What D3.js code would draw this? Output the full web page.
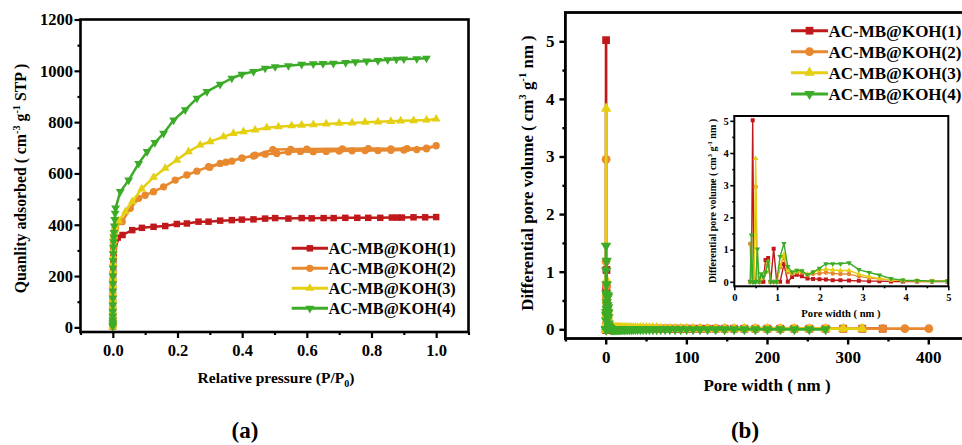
<!DOCTYPE html>
<html>
<head>
<meta charset="utf-8">
<script src="https://cdn.jsdelivr.net/npm/d3@7"></script>
<style>
  body { margin: 0; background: #fff; }
  svg { display: block; }
  text { font-family: "Liberation Serif", "Times New Roman", serif; font-weight: bold; fill: #000; }
</style>
</head>
<body>
<svg id="fig" width="962" height="445"></svg>
<script>
// ---------- sample names and colours ----------
const sampleNames = ["AC-MB@KOH(1)", "AC-MB@KOH(2)", "AC-MB@KOH(3)", "AC-MB@KOH(4)"];
const sampleColors = ["#c0191b", "#e8892f", "#e5cf12", "#3cab28"];

// ---------- (a) N2 isotherms: relative pressure P/P0 vs quantity adsorbed ----------
// micropore-filling points recorded at very low relative pressure
const lowPressure = [0.000005, 0.00001, 0.00002, 0.00003, 0.00005, 0.00008, 0.00012, 0.00018, 0.00025, 0.00035,
  0.0005, 0.0007, 0.001, 0.0013, 0.0017, 0.0022, 0.0028, 0.0035, 0.0045, 0.0057, 0.007, 0.0085];

const lowV1 = [3, 8, 16, 25, 38, 55, 75, 98, 122, 148, 175, 200, 226, 250, 270, 288, 303, 315, 326, 334, 340, 345];
const isoP1 = lowPressure.concat([0.015,
  0.03, 0.06, 0.09, 0.126, 0.162, 0.198, 0.229, 0.265, 0.296, 0.332, 0.368, 0.399, 0.435, 0.471, 0.502, 0.543, 0.584,
  0.615, 0.652, 0.683, 0.719, 0.756, 0.79, 0.827, 0.863, 0.88, 0.894, 0.93, 0.966, 1.0]);
const isoV1 = lowV1.concat([350,
  360, 379, 388, 392, 395, 403, 405, 412, 412, 416, 418, 420, 421, 424, 426, 424, 426,
  425, 426, 426, 427, 427, 427, 427, 428, 428, 428, 429, 429, 430]);

const lowV2 = [3, 8, 16, 26, 40, 58, 80, 104, 130, 158, 186, 214, 242, 268, 292, 312, 330, 346, 360, 372, 382, 392];
const isoP2 = lowPressure.concat([
  0.029, 0.054, 0.08, 0.1, 0.126, 0.157, 0.193, 0.229, 0.26, 0.296, 0.332, 0.368, 0.399, 0.435, 0.471, 0.507, 0.543, 0.58,
  0.62, 0.66, 0.70, 0.74, 0.78, 0.82, 0.86, 0.90, 0.94, 0.97, 1.0,
  0.97, 0.91, 0.86, 0.79, 0.71, 0.6, 0.55, 0.495, 0.44, 0.4, 0.35, 0.3]);
const isoV2 = lowV2.concat([
  412, 464, 503, 515, 529, 548, 574, 594, 609, 626, 639, 648, 660, 668, 675, 678, 684, 686,
  685, 686, 687, 688, 689, 689, 690, 691, 693, 696, 708,
  699, 697, 696, 697, 696, 695, 694, 693, 671, 660, 644, 624]);

const lowV3 = [3, 8, 17, 27, 42, 60, 83, 108, 135, 163, 192, 220, 250, 276, 300, 322, 340, 356, 370, 383, 395, 405];
const isoP3 = lowPressure.concat([0.018,
  0.039, 0.06, 0.089, 0.126, 0.162, 0.198, 0.234, 0.27, 0.301, 0.342, 0.373, 0.404, 0.44, 0.476, 0.512, 0.553, 0.584,
  0.62, 0.66, 0.70, 0.74, 0.78, 0.82, 0.86, 0.89, 0.93, 0.97, 1.0]);
const isoV3 = lowV3.concat([415,
  451, 490, 540, 585, 620, 652, 685, 711, 724, 743, 756, 763, 769, 778, 782, 786, 788,
  790, 793, 796, 797, 800, 801, 803, 805, 806, 808, 812]);

const lowV4 = [4, 9, 18, 29, 44, 63, 87, 113, 141, 170, 200, 230, 260, 287, 312, 334, 352, 370, 395, 420, 445, 465];
const isoP4 = lowPressure.concat([
  0.023, 0.049, 0.08, 0.106, 0.13, 0.157, 0.188, 0.224, 0.26, 0.291, 0.332, 0.368, 0.399, 0.435, 0.471, 0.502, 0.543, 0.584,
  0.62, 0.65, 0.682, 0.72, 0.75, 0.785, 0.82, 0.85, 0.877, 0.9, 0.94, 0.97]);
const isoV4 = lowV4.concat([
  529, 574, 639, 685, 720, 756, 808, 848, 893, 919, 947, 971, 986, 997, 1010, 1016, 1020, 1025,
  1027, 1028, 1029, 1032, 1035, 1038, 1040, 1043, 1045, 1046, 1047, 1049]);

const isoXTicks = [0, 0.2, 0.4, 0.6, 0.8, 1.0];
const isoXMinor = [-0.1, 0.1, 0.3, 0.5, 0.7, 0.9, 1.1];
const isoYTicks = [0, 200, 400, 600, 800, 1000, 1200];
const isoYMinor = [100, 300, 500, 700, 900, 1100];

// ---------- (b) pore size distribution: pore width (nm) vs differential pore volume ----------
const poreWidth = [0.37, 0.40, 0.43, 0.46, 0.50, 0.54, 0.58, 0.63, 0.68, 0.73,
  0.79, 0.85, 0.92, 0.99, 1.07, 1.16, 1.25, 1.35, 1.46, 1.58,
  1.71, 1.84, 1.99, 2.14, 2.30, 2.48, 2.68, 2.91, 3.15, 3.39,
  3.66, 3.94, 4.27, 4.62, 4.98, 5.38, 5.81, 6.27, 6.77, 7.31,
  7.90, 8.53, 9.21, 9.95, 10.7, 11.6, 12.5, 13.5, 14.6, 15.8,
  17.1, 18.4, 19.9, 21.5, 23.2, 25.1, 27.1, 29.3, 31.6, 34.1,
  36.9, 39.8, 43.0, 46.4, 50.2, 54.2, 58.5, 63.2, 68.2, 73.7,
  79.6, 86.0, 92.9, 100.3, 108.3, 117.0, 126.3, 136.4, 147.4, 159.1,
  171.9, 185.6, 200.5, 216.5, 233.8, 252.5, 272.7, 294.5, 318.1, 343.5,
  371.0, 400.7];

const poreVol1 = [0, 0, 5.02, 0, 0, 0, 0, 0, 0, 0.68,
  0.74, 0, 1.03, 0, 0, 0.55, 0, 0.15, 0.22, 0.17,
  0.10, 0.09, 0.08, 0.07, 0.05, 0.05, 0.04, 0.03, 0.02, 0.02,
  0.01, 0.01, 0.01, 0.01, 0.01, 0.01, 0.01, 0.01, 0.01, 0.01,
  0.01, 0.01, 0.01, 0.01, 0.01, 0.01, 0.01, 0.01, 0.01, 0.01,
  0.01, 0.01, 0.01, 0.01, 0.01, 0.01, 0.01, 0.01, 0.01, 0.01,
  0.01, 0.01, 0.01, 0.01, 0.01, 0.01, 0.01, 0.01, 0.01, 0.01,
  0.01, 0.01, 0.01, 0.01, 0.01, 0.01, 0.01, 0.01, 0.01, 0.01,
  0.01, 0.01, 0.01, 0.01, 0.01, 0.01, 0.01, 0.01, 0.01, 0.01];
const poreVol2 = [1.18, 0, 0, 0, 2.95, 0, 0, 0.10, 0.20, 0.30,
  0.55, 0, 0, 0, 0.45, 0.75, 0.30, 0.25, 0.30, 0.30,
  0.20, 0.25, 0.26, 0.29, 0.26, 0.24, 0.24, 0.17, 0.12, 0.09,
  0.06, 0.04, 0.03, 0.02, 0.02, 0.02, 0.01, 0.01, 0.01, 0.01,
  0.01, 0.01, 0.01, 0.01, 0.01, 0.01, 0.01, 0.01, 0.01, 0.01,
  0.01, 0.01, 0.01, 0.01, 0.01, 0.01, 0.01, 0.01, 0.01, 0.01,
  0.01, 0.01, 0.01, 0.01, 0.01, 0.01, 0.01, 0.01, 0.01, 0.01,
  0.01, 0.01, 0.01, 0.01, 0.01, 0.01, 0.01, 0.01, 0.01, 0.01,
  0.01, 0.01, 0.01, 0.01, 0.01, 0.01, 0.01, 0.01, 0.01, 0.01,
  0.01, 0.01];
const poreVol3 = [0, 0, 0, 0, 3.83, 0, 0, 0.10, 0.25, 0.30,
  0.62, 0, 0, 0, 0.50, 0.85, 0.35, 0.28, 0.33, 0.33,
  0.24, 0.30, 0.36, 0.39, 0.37, 0.35, 0.35, 0.24, 0.16, 0.10,
  0.06, 0.04, 0.03, 0.02, 0.02, 0.02, 0.02, 0.02, 0.02, 0.02,
  0.02, 0.02, 0.02, 0.02, 0.02, 0.02, 0.02, 0.02, 0.02, 0.02,
  0.02, 0.02, 0.02, 0.02, 0.02, 0.02, 0.02, 0.02, 0.02, 0.02,
  0.02, 0.02, 0.02, 0.02, 0.02, 0.02, 0.02, 0.02, 0.01, 0.01,
  0.01, 0.01, 0.01, 0.01, 0.01, 0.01, 0.01, 0.01, 0.01, 0.01,
  0.01, 0.01, 0.01, 0.01, 0.01, 0.01, 0.01, 0.01, 0.01];
const poreVol4 = [0, 1.45, 0, 0, 0, 1.02, 0, 0.25, 0.15, 0.30,
  0.62, 0, 0, 0, 0.78, 1.19, 0.47, 0.30, 0.36, 0.34,
  0.22, 0.30, 0.42, 0.56, 0.56, 0.56, 0.59, 0.38, 0.29, 0.21,
  0.10, 0.05, 0.04, 0.02, 0.02, 0.01, 0.01, 0.01, 0, 0,
  0, 0, 0, 0, 0, 0, 0, 0, 0, 0,
  0, 0, 0, 0, 0, 0, 0, 0, 0, 0,
  0, 0, 0, 0, 0, 0, 0, 0, 0, 0,
  0, 0, 0, 0, 0, 0, 0, 0, 0, 0,
  0, 0, 0, 0, 0, 0, 0];

const psdXTicks = [0, 100, 200, 300, 400];
const psdXMinor = [-50, 50, 150, 250, 350];
const psdYTicks = [0, 1, 2, 3, 4, 5];
const psdYMinor = [0.5, 1.5, 2.5, 3.5, 4.5];
const insetXTicks = [0, 1, 2, 3, 4, 5];
const insetXMinor = [0.5, 1.5, 2.5, 3.5, 4.5];
const insetYTicks = [0, 1, 2, 3, 4, 5];
const insetYMinor = [0.5, 1.5, 2.5, 3.5, 4.5];

// ---------- helpers ----------
const svg = d3.select("#fig");
const shapes = ["square", "circle", "up", "down"];

function symbolPath(shape, size) {
  const type = shape === "square" ? d3.symbolSquare
             : shape === "circle" ? d3.symbolCircle : d3.symbolTriangle;
  const s = (shape === "up" || shape === "down") ? size * 0.8 : size;
  return d3.symbol().type(type).size(s)();
}

function drawSeries(g, x, y, xs, ys, color, shape, lw, msize) {
  const pts = xs.map((v, i) => [v, ys[i]]);
  g.append("path")
    .datum(pts)
    .attr("fill", "none")
    .attr("stroke", color)
    .attr("stroke-width", lw)
    .attr("stroke-linejoin", "round")
    .attr("d", d3.line().x(d => x(d[0])).y(d => y(d[1])));
  g.selectAll(null).data(pts).enter().append("path")
    .attr("d", symbolPath(shape, msize))
    .attr("fill", color)
    .attr("transform", d => `translate(${x(d[0])},${y(d[1])})` + (shape === "down" ? " rotate(180)" : ""));
}

function styleAxisText(g, fs) {
  g.attr("font-family", null).attr("font-size", null);
  g.selectAll("text").attr("font-size", fs).attr("fill", "#000");
}

function drawAxes(g, x, y, o) {
  const [xl, xr] = x.range();
  const [yb, yt] = y.range();
  // bottom axis
  const gx = g.append("g").attr("transform", `translate(0,${yb})`)
    .call(d3.axisBottom(x).tickValues(o.xTicks).tickSize(o.major).tickSizeOuter(0)
      .tickPadding(o.padX).tickFormat(o.xFmt));
  gx.select(".domain").remove();
  gx.selectAll("line").attr("stroke", "#000").attr("stroke-width", o.tickW);
  styleAxisText(gx, o.fs);
  const gxm = g.append("g").attr("transform", `translate(0,${yb})`)
    .call(d3.axisBottom(x).tickValues(o.xMinor).tickSize(o.minor).tickSizeOuter(0).tickFormat(""));
  gxm.select(".domain").remove();
  gxm.selectAll("line").attr("stroke", "#000").attr("stroke-width", o.tickW);
  // left axis
  const gy = g.append("g").attr("transform", `translate(${xl},0)`)
    .call(d3.axisLeft(y).tickValues(o.yTicks).tickSize(o.major).tickSizeOuter(0)
      .tickPadding(o.padY).tickFormat(o.yFmt));
  gy.select(".domain").remove();
  gy.selectAll("line").attr("stroke", "#000").attr("stroke-width", o.tickW);
  styleAxisText(gy, o.fs);
  const gym = g.append("g").attr("transform", `translate(${xl},0)`)
    .call(d3.axisLeft(y).tickValues(o.yMinor).tickSize(o.minor).tickSizeOuter(0).tickFormat(""));
  gym.select(".domain").remove();
  gym.selectAll("line").attr("stroke", "#000").attr("stroke-width", o.tickW);
  // frame
  g.append("rect")
    .attr("x", xl).attr("y", yt).attr("width", xr - xl).attr("height", yb - yt)
    .attr("fill", "none").attr("stroke", "#000").attr("stroke-width", o.frameW);
}

// text made of [string, "sup"|"sub"|null] parts
function richText(g, parts, fs, attrs) {
  const t = g.append("text").attr("font-size", fs);
  Object.entries(attrs).forEach(([k, v]) => t.attr(k, v));
  let shift = 0;
  parts.forEach(([s, kind]) => {
    const target = kind === "sup" ? -0.38 * fs : kind === "sub" ? 0.25 * fs : 0;
    const ts = t.append("tspan").text(s).attr("dy", target - shift);
    if (kind) ts.attr("font-size", fs * 0.65);
    shift = target;
  });
  return t;
}

function drawLegend(g, x0, x1, rows, fs, lw, msize) {
  sampleNames.forEach((name, i) => {
    const yy = rows[i];
    g.append("line").attr("x1", x0).attr("x2", x1).attr("y1", yy).attr("y2", yy)
      .attr("stroke", sampleColors[i]).attr("stroke-width", lw);
    g.append("path").attr("d", symbolPath(shapes[i], msize)).attr("fill", sampleColors[i])
      .attr("transform", `translate(${(x0 + x1) / 2},${yy})` + (shapes[i] === "down" ? " rotate(180)" : ""));
    g.append("text").attr("x", x1 + 0.5).attr("y", yy).attr("dy", "0.35em")
      .attr("font-size", fs).text(name);
  });
}

// ---------- panel (a) ----------
const gA = svg.append("g");
const xA = d3.scaleLinear().domain([-0.1, 1.1]).range([80.5, 468.5]);
const yA = d3.scaleLinear().domain([-18, 1200]).range([332, 19.5]);

const isoSets = [[isoP1, isoV1], [isoP2, isoV2], [isoP3, isoV3], [isoP4, isoV4]];
isoSets.forEach(([p, v], i) => drawSeries(gA, xA, yA, p, v, sampleColors[i], shapes[i], 2.5, 42));

drawAxes(gA, xA, yA, {
  xTicks: isoXTicks, xMinor: isoXMinor, yTicks: isoYTicks, yMinor: isoYMinor,
  xFmt: d3.format(".1f"), yFmt: d3.format("d"),
  major: 6, minor: 3, padX: 6.5, padY: 1.5, tickW: 2.2, frameW: 2.6, fs: 16.5
});

richText(gA, [["Relative pressure (P/P", null], ["0", "sub"], [")", null]], 15.5,
  { x: 276, y: 383, "text-anchor": "middle" });
richText(gA, [["Quanlity adsorbed ( cm", null], ["-3", "sup"], [" g", null], ["-1", "sup"], [" STP )", null]], 15.8,
  { transform: "translate(25.5,178.5) rotate(-90)", "text-anchor": "middle" });

drawLegend(gA, 291.7, 328, [248.3, 268.3, 288.3, 308.3], 16.3, 3, 42);

gA.append("text").attr("x", 245).attr("y", 438).attr("text-anchor", "middle")
  .attr("font-size", 23).text("(a)");

// ---------- panel (b) ----------
const gB = svg.append("g");
const xB = d3.scaleLinear().domain([-50, 450]).range([565.4, 968.6]);
const yB = d3.scaleLinear().domain([-0.16, 5.5]).range([338.5, 12.5]);

const poreSets = [poreVol1, poreVol2, poreVol3, poreVol4];
poreSets.forEach((v, i) => drawSeries(gB, xB, yB, poreWidth.slice(0, v.length), v, sampleColors[i], shapes[i], 2.7, 60));

drawAxes(gB, xB, yB, {
  xTicks: psdXTicks, xMinor: psdXMinor, yTicks: psdYTicks, yMinor: psdYMinor,
  xFmt: d3.format("d"), yFmt: d3.format("d"),
  major: 6, minor: 3, padX: 6, padY: 5, tickW: 2.4, frameW: 2.8, fs: 17
});

richText(gB, [["Pore width ( nm )", null]], 17, { x: 767, y: 391, "text-anchor": "middle" });
richText(gB, [["Differential pore volume ( cm", null], ["3", "sup"], [" g", null], ["-1", "sup"], [" nm )", null]], 16.8,
  { transform: "translate(532.5,173) rotate(-90)", "text-anchor": "middle" });

drawLegend(gB, 791, 828, [30.7, 51.7, 72.7, 94], 17, 3, 60);

gB.append("text").attr("x", 745).attr("y", 438).attr("text-anchor", "middle")
  .attr("font-size", 23).text("(b)");

// ---------- inset: 0-5 nm region ----------
const gI = svg.append("g");
const xI = d3.scaleLinear().domain([0, 5]).range([734.3, 948.3]);
const yI = d3.scaleLinear().domain([-0.14, 5.15]).range([286.3, 116]);

gI.append("rect").attr("x", 734.3).attr("y", 116).attr("width", 214).attr("height", 170.3).attr("fill", "#fff");
gI.append("clipPath").attr("id", "insetClip")
  .append("rect").attr("x", 734.3).attr("y", 110).attr("width", 214).attr("height", 180);
const gIData = gI.append("g").attr("clip-path", "url(#insetClip)");
poreSets.forEach((v, i) => drawSeries(gIData, xI, yI, poreWidth.slice(0, v.length), v, sampleColors[i], shapes[i], 1.4, 16));

drawAxes(gI, xI, yI, {
  xTicks: insetXTicks, xMinor: insetXMinor, yTicks: insetYTicks, yMinor: insetYMinor,
  xFmt: d3.format("d"), yFmt: d3.format("d"),
  major: 4, minor: 2, padX: 3, padY: 1.5, tickW: 1.6, frameW: 2, fs: 10.5
});

richText(gI, [["Pore width ( nm )", null]], 10.6, { x: 841, y: 316.5, "text-anchor": "middle" });
richText(gI, [["Differential pore volume ( cm", null], ["3", "sup"], [" g", null], ["-1", "sup"], [" nm )", null]], 10,
  { transform: "translate(715.5,201) rotate(-90)", "text-anchor": "middle" });
</script>
</body>
</html>
